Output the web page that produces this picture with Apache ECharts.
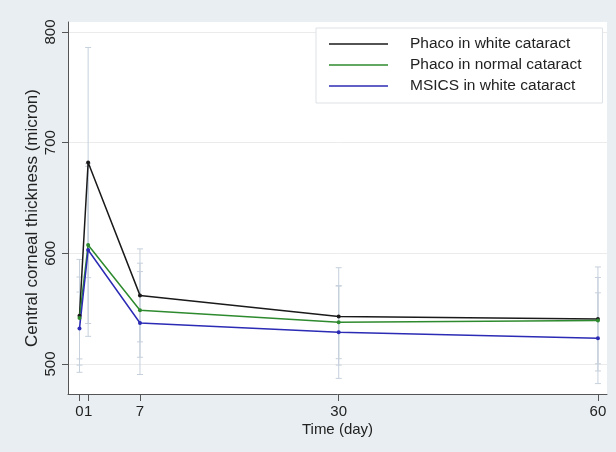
<!DOCTYPE html>
<html>
<head>
<meta charset="utf-8">
<script src="https://cdn.jsdelivr.net/npm/echarts@6/dist/echarts.min.js"></script>
<style>
  html, body { margin: 0; padding: 0; background: #e8eef1; }
  #chart { width: 616px; height: 452px; }
</style>
</head>
<body>
<div id="chart"></div>
<script>
// ---- data ----
const days = [0, 1, 7, 30, 60];
const phacoWhite = [543.5, 682, 562, 543, 540.7];
const phacoNormal = [541.6, 607.6, 548.6, 537.8, 539.2];
const msicsWhite = [532, 603, 537, 528.7, 523.3];
const sdPhacoWhite = [51, 104, 42, 44, 47];
const sdPhacoNormal = [37, 71, 42.5, 33, 39];
const sdMsicsWhite = [33, 78, 46.5, 41.7, 41];
const xTickValues = [0, 1, 7, 30, 60];
const yTickValues = [500, 600, 700, 800];
const seriesNames = ['Phaco in white cataract', 'Phaco in normal cataract', 'MSICS in white cataract'];

const colors = ['#1a1a1a', '#2e8a2e', '#2b2bb5'];
const means = [phacoWhite, phacoNormal, msicsWhite];
const sds = [sdPhacoWhite, sdPhacoNormal, sdMsicsWhite];

const font = '"Liberation Sans", Arial, sans-serif';
const textColor = '#222';

function errRender(params, api) {
  const x = api.value(0), y = api.value(1), sd = api.value(2);
  const top = api.coord([x, y + sd]);
  const bot = api.coord([x, y - sd]);
  const hw = 3;
  const style = { stroke: '#c6d0dc', lineWidth: 1 };
  return {
    type: 'group',
    children: [
      { type: 'line', shape: { x1: top[0], y1: top[1], x2: bot[0], y2: bot[1] }, style: style },
      { type: 'line', shape: { x1: top[0] - hw, y1: top[1], x2: top[0] + hw, y2: top[1] }, style: style },
      { type: 'line', shape: { x1: bot[0] - hw, y1: bot[1], x2: bot[0] + hw, y2: bot[1] }, style: style }
    ]
  };
}

const series = [];
for (let s = 0; s < 3; s++) {
  series.push({
    name: 'err' + s,
    type: 'custom',
    renderItem: errRender,
    encode: { x: 0, y: 1 },
    data: days.map((d, i) => [d, means[s][i], sds[s][i]]),
    z: 1,
    silent: true
  });
}
for (let s = 0; s < 3; s++) {
  series.push({
    name: seriesNames[s],
    type: 'line',
    data: days.map((d, i) => [d, means[s][i]]),
    symbol: 'circle',
    symbolSize: 4,
    showSymbol: true,
    lineStyle: { color: colors[s], width: 1.5 },
    itemStyle: { color: colors[s] },
    z: 3,
    silent: true,
    animation: false
  });
}

const chart = echarts.init(document.getElementById('chart'), null, { renderer: 'canvas' });
chart.setOption({
  animation: false,
  backgroundColor: '#e8eef1',
  textStyle: { fontFamily: font },
  grid: {
    left: 68, right: 9, top: 22, bottom: 58,
    show: true, backgroundColor: '#ffffff', borderWidth: 0
  },
  legend: {
    data: seriesNames,
    orient: 'vertical',
    left: 316, top: 28,
    backgroundColor: '#ffffff',
    borderColor: '#dde2e6',
    borderWidth: 1,
    borderRadius: 0,
    padding: [8, 21, 9, 13],
    itemGap: 5,
    itemWidth: 59,
    itemHeight: 1.5,
    icon: 'rect',
    textStyle: { fontFamily: font, fontSize: 15.5, color: textColor, lineHeight: 16, padding: [0, 0, 0, 17] },
    selectedMode: false
  },
  xAxis: {
    type: 'value',
    min: -1.33, max: 61.05,
    name: 'Time (day)',
    nameLocation: 'middle',
    nameGap: 28,
    nameMoveOverlap: false,
    nameTextStyle: { fontFamily: font, fontSize: 15, color: textColor },
    axisLine: { show: true, onZero: false, lineStyle: { color: '#555', width: 1 } },
    axisTick: { show: true, length: 7, customValues: xTickValues, lineStyle: { color: '#555' } },
    axisLabel: { customValues: xTickValues, fontSize: 15, color: textColor, margin: 10, hideOverlap: false },
    splitLine: { show: false }
  },
  yAxis: {
    type: 'value',
    min: 472.9, max: 809,
    name: 'Central corneal thickness (micron)',
    nameLocation: 'middle',
    nameRotate: 90,
    nameGap: 27,
    nameMoveOverlap: false,
    nameTextStyle: { fontFamily: font, fontSize: 17, color: textColor, padding: [0, 20, 0, 0] },
    axisLine: { show: true, onZero: false, lineStyle: { color: '#555', width: 1 } },
    axisTick: { show: true, length: 6, customValues: yTickValues, lineStyle: { color: '#555' } },
    axisLabel: { customValues: yTickValues, rotate: 90, fontSize: 15, color: textColor, margin: 10 },
    splitLine: { show: true, lineStyle: { color: '#ebebeb', width: 1 } }
  },
  series: series
});
</script>
</body>
</html>
